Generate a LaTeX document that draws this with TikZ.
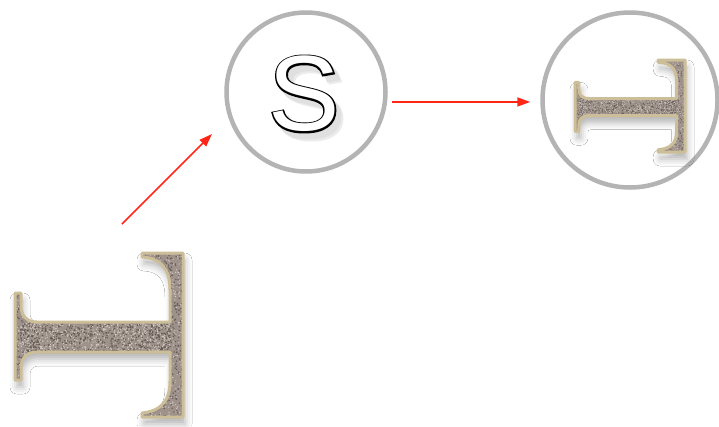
\documentclass[tikz,border=0pt]{standalone}
\usepackage{xcolor}
\usepackage{fontspec}
\newfontfamily\sglyphfont{Liberation Sans}
\newfontfamily\sglyphfat[FakeBold=3]{Liberation Sans}
\usetikzlibrary{arrows.meta, positioning, calc, shadows.blur}
\definecolor{hubgray}{RGB}{180,180,180}
\definecolor{flowred}{RGB}{255,38,24}
\definecolor{stone}{RGB}{158,146,138}
\definecolor{stonedark}{RGB}{100,90,86}
\definecolor{stonelight}{RGB}{210,202,196}
\definecolor{stonerim}{RGB}{204,190,152}
% outline of the sideways T, in a 168 x 164 box
\newcommand{\tshape}{(168,0) -- (168,164) -- (127,164) -- (127,160)
  .. controls (146,158) and (155,148) .. (155,128) -- (155,99) -- (22,99)
  .. controls (12,99) and (6,105) .. (6,115) -- (6,127) -- (0,127) -- (0,40)
  -- (6,40) -- (6,53) .. controls (6,63) and (12,69) .. (22,69) -- (155,69)
  -- (155,37) .. controls (155,16) and (146,5) .. (127,4) -- (127,0) -- cycle}
% outlined letter with a soft drop shadow
\newcommand{\outlined}[1]{%
  \rlap{\kern7pt\raisebox{-8pt}{\color{black!8}\sglyphfat #1}}%
  \rlap{\kern5pt\raisebox{-6pt}{\color{black!12}\sglyphfat #1}}%
  \rlap{\sglyphfat #1}{\color{white}#1}}
\tikzset{
  hub/.style={circle, draw=hubgray, line width=4.5pt, minimum size=159pt,
    inner sep=0pt},
  flow/.style={-{Triangle[length=13pt, width=9pt]}, line width=1.6pt,
    color=flowred},
  sglyph/.style={inner sep=0pt,
    font=\fontsize{107}{107}\selectfont\sglyphfont},
  rim/.style={draw=stonerim, line width=3pt, line join=round},
  tglyph/.pic={
    \fill[stone, blur shadow={shadow xshift=2pt, shadow yshift=-7pt,
      shadow blur radius=7pt, shadow opacity=30}] \tshape;
    \begin{scope}
      \clip \tshape;
      % granite grain
      \foreach \k in {1,...,600}
        \fill[stonedark] ({6+149*rnd},{69+30*rnd}) circle (0.8);
      \foreach \k in {1,...,500}
        \fill[stonelight] ({6+149*rnd},{69+30*rnd}) circle (0.7);
      \foreach \k in {1,...,450}
        \fill[stonedark] ({127+41*rnd},{164*rnd}) circle (0.8);
      \foreach \k in {1,...,380}
        \fill[stonelight] ({127+41*rnd},{164*rnd}) circle (0.7);
      \foreach \k in {1,...,120}
        \fill[stonedark] ({22*rnd},{40+87*rnd}) circle (0.8);
      \foreach \k in {1,...,100}
        \fill[stonelight] ({22*rnd},{40+87*rnd}) circle (0.7);
    \end{scope}
    \draw[rim] \tshape;
  }
}
\pgfmathsetseed{42}

\begin{document}
\begin{tikzpicture}[x=1pt, y=-1pt]
  \path[use as bounding box, fill=white] (0,0) rectangle (719,426);

  % source T
  \pic at (15,253) {tglyph};

  % switch
  \node[hub] (sw) at (306,92) {};
  \node[sglyph, text=black] (swS) at (304,98) {\outlined{S}};

  % target
  \node[hub, minimum size=175pt] (dst) at (630,100) {};
  \pic[xscale=0.655, yscale=0.561] at (575,60) {tglyph};

  % connectors
  \coordinate (srcout) at (122,224);
  \coordinate (swin) at (212,134);
  \draw[flow] (srcout) -- (swin);
  \draw[flow, shorten <=5pt, shorten >=10pt] (sw.-7) -- (sw.-7 -| dst.west);
\end{tikzpicture}
\end{document}
